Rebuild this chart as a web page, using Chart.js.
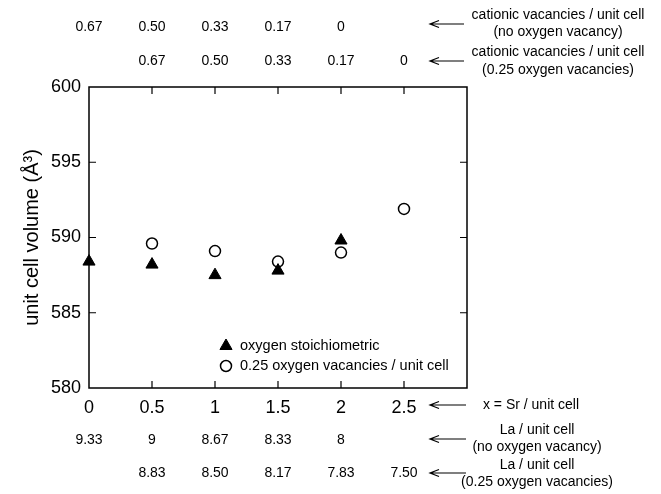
<!DOCTYPE html>
<html>
<head>
<meta charset="utf-8">
<script src="https://cdn.jsdelivr.net/npm/chart.js@4.4.0/dist/chart.umd.min.js"></script>
<style>
  html, body { margin: 0; padding: 0; background: #fff; }
  #wrap { width: 661px; height: 494px; }
</style>
</head>
<body>
<div id="wrap"><canvas id="chart" width="661" height="494"></canvas></div>
<script>
// x = Sr / unit cell
var xSr = [0, 0.5, 1, 1.5, 2, 2.5];
// unit cell volume (A^3)
var volStoich = [588.4, 588.2, 587.5, 587.8, 589.8, null];
var volVac = [null, 589.6, 589.1, 588.4, 589.0, 591.9];
// extra label rows
var cationNoVac = ['0.67', '0.50', '0.33', '0.17', '0', ''];
var cationVac = ['', '0.67', '0.50', '0.33', '0.17', '0'];
var laNoVac = ['9.33', '9', '8.67', '8.33', '8', ''];
var laVac = ['', '8.83', '8.50', '8.17', '7.83', '7.50'];

var FONT = '"Liberation Sans", Arial, sans-serif';

function toPoints(ys) {
    var pts = [];
    for (var i = 0; i < xSr.length; i++) {
        if (ys[i] !== null) pts.push({ x: xSr[i], y: ys[i] });
    }
    return pts;
}

function arrow(ctx, x1, x2, y) {
    ctx.beginPath();
    ctx.moveTo(x1, y);
    ctx.lineTo(x2, y);
    ctx.moveTo(x1 + 9, y - 3.5);
    ctx.lineTo(x1, y);
    ctx.lineTo(x1 + 9, y + 3.5);
    ctx.stroke();
}

var extras = {
    id: 'extras',
    beforeDatasetsDraw: function (chart) {
        var ctx = chart.ctx;
        var a = chart.chartArea;
        var xs = chart.scales.x, ys = chart.scales.y;
        ctx.save();
        ctx.strokeStyle = '#000';

        // frame
        ctx.lineWidth = 1.5;
        ctx.strokeRect(a.left, a.top, a.right - a.left, a.bottom - a.top);

        // inward ticks
        ctx.lineWidth = 1.2;
        ctx.beginPath();
        xs.ticks.forEach(function (t) {
            if (t.value <= xs.min || t.value >= xs.max) return;
            var px = xs.getPixelForValue(t.value);
            ctx.moveTo(px, a.bottom); ctx.lineTo(px, a.bottom - 7);
            ctx.moveTo(px, a.top); ctx.lineTo(px, a.top + 7);
        });
        ys.ticks.forEach(function (t) {
            if (t.value <= ys.min || t.value >= ys.max) return;
            var py = ys.getPixelForValue(t.value);
            ctx.moveTo(a.left, py); ctx.lineTo(a.left + 7, py);
            ctx.moveTo(a.right, py); ctx.lineTo(a.right - 7, py);
        });
        ctx.stroke();
        ctx.restore();
    },
    afterDraw: function (chart) {
        var ctx = chart.ctx;
        var xs = chart.scales.x;
        ctx.save();
        ctx.strokeStyle = '#000';
        ctx.fillStyle = '#000';

        // extra label rows
        ctx.font = '14px ' + FONT;
        ctx.textAlign = 'center';
        ctx.textBaseline = 'middle';
        for (var i = 0; i < xSr.length; i++) {
            var px = xs.getPixelForValue(xSr[i]);
            ctx.fillText(cationNoVac[i], px, 27);
            ctx.fillText(cationVac[i], px, 61);
            ctx.fillText(laNoVac[i], px, 440);
            ctx.fillText(laVac[i], px, 473);
        }

        // arrows
        ctx.lineWidth = 1.2;
        arrow(ctx, 430, 464, 24);
        arrow(ctx, 430, 464, 61);
        arrow(ctx, 430, 466, 405);
        arrow(ctx, 430, 466, 439);
        arrow(ctx, 430, 466, 473);

        // right side captions
        ctx.fillText('cationic vacancies / unit cell', 558, 15);
        ctx.fillText('(no oxygen vacancy)', 558, 32);
        ctx.fillText('cationic vacancies / unit cell', 558, 52);
        ctx.fillText('(0.25 oxygen vacancies)', 558, 70);
        ctx.fillText('x = Sr / unit cell', 531, 405);
        ctx.fillText('La / unit cell', 537, 430);
        ctx.fillText('(no oxygen vacancy)', 537, 447);
        ctx.fillText('La / unit cell', 537, 465);
        ctx.fillText('(0.25 oxygen vacancies)', 537, 482);

        // legend inside the plot
        var ds = chart.data.datasets;
        var rows = [346, 366];
        ctx.font = '14.5px ' + FONT;
        ctx.textAlign = 'left';
        ds.forEach(function (d, k) {
            ctx.fillStyle = d.backgroundColor;
            ctx.strokeStyle = d.borderColor;
            ctx.lineWidth = d.borderWidth;
            Chart.helpers.drawPoint(ctx, {
                pointStyle: d.pointStyle,
                radius: d.pointRadius,
                borderWidth: d.borderWidth,
                rotation: 0
            }, 226, rows[k]);
            ctx.fillStyle = '#000';
            ctx.fillText(d.label, 240, rows[k]);
        });
        ctx.restore();
    }
};

var ctx = document.getElementById('chart').getContext('2d');
var chart = new Chart(ctx, {
    type: 'scatter',
    data: {
        datasets: [{
            label: 'oxygen stoichiometric',
            data: toPoints(volStoich),
            pointStyle: 'triangle',
            pointRadius: 7,
            backgroundColor: '#000',
            borderColor: '#000',
            borderWidth: 1,
            clip: false
        }, {
            label: '0.25 oxygen vacancies / unit cell',
            data: toPoints(volVac),
            pointStyle: 'circle',
            pointRadius: 5.5,
            backgroundColor: '#fff',
            borderColor: '#000',
            borderWidth: 1.5,
            clip: false
        }]
    },
    options: {
        responsive: false,
        animation: false,
        layout: { padding: { top: 87, right: 194, left: 0, bottom: 0 } },
        plugins: {
            legend: { display: false },
            tooltip: { enabled: false }
        },
        scales: {
            x: {
                type: 'linear',
                min: 0,
                max: 3,
                grid: { display: false },
                border: { display: false },
                afterFit: function (s) { s.height = 106; },
                ticks: {
                    stepSize: 0.5,
                    padding: 1,
                    color: '#000',
                    font: { size: 18, family: FONT },
                    callback: function (v) { return v >= 3 ? '' : String(v); }
                }
            },
            y: {
                min: 580,
                max: 600,
                grid: { display: false },
                border: { display: false },
                afterFit: function (s) { s.width = 89; },
                title: {
                    display: true,
                    text: 'unit cell volume (Å³)',
                    color: '#000',
                    font: { size: 20, family: FONT },
                    padding: { top: 20, bottom: 0 }
                },
                ticks: {
                    stepSize: 5,
                    padding: 0,
                    color: '#000',
                    font: { size: 18, family: FONT }
                }
            }
        }
    },
    plugins: [extras]
});
</script>
</body>
</html>
